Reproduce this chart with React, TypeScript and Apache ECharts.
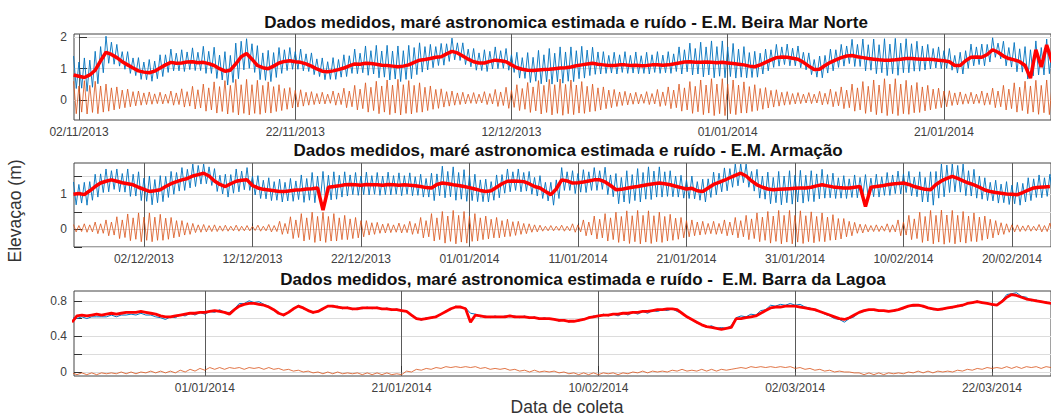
import React, { useEffect, useRef } from "react";
import * as echarts from "echarts";

// x values are days counted from 02/11/2013
const BASE_DATE = Date.UTC(2013, 10, 2);

// ---------- Panel 1: E.M. Beira Mar Norte ----------
const p1Range = [-0.46, 89.9];
const p1XTicks = [0, 20, 40, 60, 80];
const p1TideStart = -0.5;
const p1TideStep = 0.25;
const p1Astro = [
  0.60,-0.43,0.45,-0.38, 0.62,-0.44,0.47,-0.39, 0.60,-0.43,0.45,-0.38, 0.51,-0.35,0.39,-0.31, 0.42,-0.27,0.32,-0.24,
  0.35,-0.21,0.27,-0.18, 0.29,-0.16,0.23,-0.14, 0.26,-0.13,0.20,-0.11, 0.25,-0.12,0.19,-0.10, 0.29,-0.16,0.23,-0.14,
  0.36,-0.22,0.27,-0.19, 0.44,-0.28,0.33,-0.25, 0.51,-0.35,0.39,-0.31, 0.58,-0.41,0.43,-0.36, 0.62,-0.44,0.47,-0.39,
  0.66,-0.47,0.49,-0.42, 0.66,-0.47,0.49,-0.42, 0.63,-0.45,0.47,-0.40, 0.58,-0.41,0.43,-0.36, 0.49,-0.33,0.37,-0.29,
  0.40,-0.25,0.31,-0.22, 0.33,-0.19,0.25,-0.16, 0.27,-0.14,0.21,-0.12, 0.25,-0.12,0.19,-0.10, 0.29,-0.16,0.23,-0.14,
  0.38,-0.24,0.29,-0.21, 0.47,-0.31,0.35,-0.27, 0.55,-0.38,0.41,-0.33, 0.60,-0.43,0.45,-0.38, 0.64,-0.46,0.48,-0.41,
  0.66,-0.47,0.49,-0.42, 0.62,-0.44,0.47,-0.39, 0.55,-0.38,0.41,-0.33, 0.45,-0.29,0.34,-0.26, 0.36,-0.22,0.27,-0.19,
  0.29,-0.16,0.23,-0.14, 0.25,-0.12,0.19,-0.10, 0.24,-0.11,0.19,-0.09, 0.27,-0.14,0.21,-0.12, 0.34,-0.20,0.26,-0.17,
  0.41,-0.26,0.31,-0.23, 0.49,-0.33,0.37,-0.29, 0.56,-0.39,0.42,-0.34, 0.62,-0.44,0.47,-0.39, 0.66,-0.47,0.49,-0.42,
  0.67,-0.48,0.50,-0.43, 0.64,-0.46,0.48,-0.41, 0.59,-0.42,0.44,-0.37, 0.51,-0.35,0.39,-0.31, 0.42,-0.27,0.32,-0.24,
  0.34,-0.20,0.26,-0.17, 0.28,-0.15,0.22,-0.13, 0.25,-0.12,0.19,-0.10, 0.27,-0.14,0.21,-0.12, 0.34,-0.20,0.26,-0.17,
  0.42,-0.27,0.32,-0.24, 0.51,-0.35,0.39,-0.31, 0.59,-0.42,0.44,-0.37, 0.64,-0.46,0.48,-0.41, 0.68,-0.49,0.51,-0.43,
  0.68,-0.49,0.51,-0.43, 0.64,-0.46,0.48,-0.41, 0.58,-0.41,0.43,-0.36, 0.49,-0.33,0.37,-0.29, 0.40,-0.25,0.31,-0.22,
  0.33,-0.19,0.25,-0.16, 0.27,-0.14,0.21,-0.12, 0.24,-0.11,0.19,-0.09, 0.24,-0.11,0.19,-0.09, 0.28,-0.15,0.22,-0.13,
  0.35,-0.21,0.27,-0.18, 0.42,-0.27,0.32,-0.24, 0.51,-0.35,0.39,-0.31, 0.59,-0.42,0.44,-0.37, 0.64,-0.46,0.48,-0.41,
  0.68,-0.49,0.51,-0.43, 0.68,-0.49,0.51,-0.43, 0.63,-0.45,0.47,-0.40, 0.56,-0.39,0.42,-0.34, 0.47,-0.31,0.35,-0.27,
  0.38,-0.24,0.29,-0.21, 0.30,-0.17,0.23,-0.15, 0.26,-0.13,0.20,-0.11, 0.25,-0.12,0.19,-0.10, 0.29,-0.16,0.23,-0.14,
  0.38,-0.24,0.29,-0.21, 0.47,-0.31,0.35,-0.27, 0.55,-0.38,0.41,-0.33, 0.60,-0.43,0.45,-0.38, 0.63,-0.45,0.47,-0.40,
  0.64,-0.46,0.48,-0.41,
];
const p1Measured = [
  1.40,0.37,1.21,0.38, 1.34,0.28,1.27,0.41, 1.55,0.52,1.70,0.87, 2.03,1.17,1.84,1.14, 1.77,1.08,1.54,0.98,
  1.54,0.85,1.34,0.78, 1.35,0.66,1.21,0.65, 1.29,0.60,1.24,0.68, 1.44,0.75,1.44,0.88, 1.62,0.93,1.49,0.93,
  1.60,0.91,1.53,0.97, 1.66,0.94,1.52,0.94, 1.71,0.85,1.55,0.85, 1.68,0.69,1.43,0.64, 1.54,0.48,1.42,0.56,
  1.81,0.68,1.87,0.96, 1.95,1.01,1.79,0.88, 1.73,0.65,1.50,0.63, 1.58,0.59,1.51,0.72, 1.67,0.85,1.60,0.94,
  1.67,0.98,1.54,0.98, 1.62,0.93,1.47,0.91, 1.50,0.81,1.31,0.75, 1.34,0.65,1.22,0.66, 1.35,0.66,1.29,0.73,
  1.44,0.75,1.41,0.85, 1.62,0.84,1.49,0.87, 1.72,0.79,1.57,0.83, 1.74,0.71,1.56,0.73, 1.74,0.64,1.56,0.67,
  1.72,0.59,1.57,0.66, 1.74,0.68,1.67,0.81, 1.82,0.89,1.70,0.96, 1.77,1.03,1.70,1.10, 1.80,1.11,1.79,1.23,
  1.97,1.28,1.82,1.26, 1.82,1.13,1.62,1.06, 1.64,0.95,1.50,0.94, 1.60,0.91,1.55,0.99, 1.69,1.00,1.57,1.01,
  1.64,0.95,1.44,0.88, 1.52,0.70,1.35,0.69, 1.51,0.56,1.36,0.60, 1.58,0.52,1.44,0.58, 1.64,0.51,1.49,0.58,
  1.69,0.54,1.53,0.60, 1.69,0.59,1.57,0.68, 1.71,0.70,1.59,0.78, 1.68,0.82,1.53,0.83, 1.54,0.85,1.42,0.86,
  1.52,0.83,1.44,0.88, 1.54,0.85,1.42,0.86, 1.53,0.84,1.41,0.85, 1.52,0.83,1.44,0.88, 1.54,0.85,1.43,0.87,
  1.54,0.85,1.47,0.91, 1.69,0.83,1.60,0.90, 1.81,0.80,1.64,0.83, 1.84,0.74,1.69,0.80, 1.88,0.71,1.70,0.76,
  1.88,0.71,1.69,0.75, 1.80,0.70,1.62,0.73, 1.70,0.71,1.51,0.72, 1.55,0.73,1.49,0.83, 1.62,0.93,1.60,1.04,
  1.77,1.08,1.69,1.13, 1.78,1.09,1.65,1.09, 1.72,1.03,1.52,0.96, 1.50,0.81,1.29,0.73, 1.40,0.71,1.42,0.86,
  1.62,0.93,1.60,1.04, 1.77,1.08,1.72,1.16, 1.93,1.07,1.77,1.07, 1.94,0.93,1.76,0.95, 1.94,0.84,1.76,0.87,
  1.95,0.78,1.78,0.84, 1.96,0.79,1.81,0.87, 1.95,0.87,1.79,0.92, 1.87,0.92,1.72,0.96, 1.77,0.99,1.64,1.02,
  1.69,1.00,1.57,1.01, 1.64,0.95,1.42,0.86, 1.52,0.83,1.57,1.01, 1.78,1.09,1.69,1.13, 1.78,1.09,1.77,1.21,
  1.98,1.36,1.81,1.31, 1.87,1.09,1.67,1.05, 1.83,0.90,1.63,0.89, 1.70,0.67,1.60,0.77, 1.88,0.80,1.67,0.80,
  1.94,0.84,1.68,0.79,
];
const p1ResStart = -0.5;
const p1ResStep = 0.5;
const p1Residual = [
  0.80,0.76,0.72,0.80,0.95,1.25,1.52,1.45,1.35,1.22,
  1.12,1.02,0.93,0.89,0.87,0.92,1.02,1.12,1.20,1.17,
  1.18,1.21,1.22,1.19,1.20,1.16,1.10,1.00,0.92,0.95,
  1.15,1.38,1.48,1.30,1.10,1.03,1.00,1.08,1.18,1.23,
  1.25,1.22,1.20,1.15,1.08,0.99,0.92,0.90,0.93,0.97,
  1.02,1.09,1.15,1.14,1.17,1.16,1.14,1.11,1.10,1.08,
  1.06,1.08,1.12,1.20,1.27,1.29,1.32,1.36,1.38,1.47,
  1.55,1.50,1.40,1.30,1.22,1.18,1.18,1.23,1.27,1.25,
  1.22,1.12,1.03,0.98,0.95,0.94,0.96,0.97,0.98,1.00,
  1.02,1.03,1.05,1.09,1.12,1.15,1.17,1.14,1.12,1.10,
  1.10,1.12,1.12,1.10,1.11,1.09,1.10,1.12,1.12,1.11,
  1.12,1.15,1.18,1.21,1.22,1.20,1.20,1.21,1.20,1.19,
  1.20,1.18,1.16,1.14,1.12,1.08,1.06,1.12,1.20,1.28,
  1.35,1.37,1.36,1.33,1.30,1.20,1.08,0.97,0.98,1.10,
  1.20,1.28,1.35,1.40,1.42,1.38,1.35,1.32,1.30,1.28,
  1.27,1.27,1.28,1.30,1.32,1.32,1.31,1.30,1.30,1.29,
  1.27,1.25,1.22,1.10,1.10,1.25,1.36,1.37,1.36,1.45,
  1.60,1.52,1.40,1.32,1.28,1.22,1.10,0.70,1.60,1.05,
  1.75,1.20,
];

// ---------- Panel 2: E.M. Armação ----------
const p2Range = [23.55, 113.6];
const p2XTicks = [30, 40, 50, 60, 70, 80, 90, 100, 110];
const p2TideStart = 23.5;
const p2TideStep = 0.25;
const p2Astro = [
  0.14,-0.07,0.11,-0.06, 0.16,-0.08,0.13,-0.07, 0.21,-0.12,0.16,-0.11, 0.27,-0.18,0.21,-0.16, 0.36,-0.26,0.27,-0.23,
  0.44,-0.32,0.33,-0.28, 0.47,-0.35,0.35,-0.31, 0.47,-0.35,0.35,-0.31, 0.43,-0.31,0.32,-0.28, 0.34,-0.24,0.25,-0.21,
  0.25,-0.16,0.19,-0.14, 0.17,-0.09,0.13,-0.08, 0.14,-0.07,0.11,-0.06, 0.13,-0.06,0.10,-0.05, 0.12,-0.05,0.09,-0.04,
  0.12,-0.05,0.09,-0.04, 0.11,-0.04,0.09,-0.03, 0.12,-0.05,0.09,-0.04, 0.14,-0.07,0.11,-0.06, 0.23,-0.14,0.17,-0.12,
  0.36,-0.26,0.27,-0.23, 0.45,-0.33,0.33,-0.29, 0.49,-0.37,0.37,-0.33, 0.49,-0.37,0.37,-0.33, 0.45,-0.33,0.33,-0.29,
  0.40,-0.29,0.30,-0.26, 0.34,-0.24,0.25,-0.21, 0.25,-0.16,0.19,-0.14, 0.20,-0.11,0.15,-0.10, 0.17,-0.09,0.13,-0.08,
  0.18,-0.10,0.14,-0.09, 0.23,-0.14,0.17,-0.12, 0.34,-0.24,0.25,-0.21, 0.45,-0.33,0.33,-0.29, 0.51,-0.39,0.38,-0.34,
  0.54,-0.41,0.40,-0.36, 0.51,-0.39,0.38,-0.34, 0.45,-0.33,0.33,-0.29, 0.38,-0.27,0.29,-0.24, 0.34,-0.24,0.25,-0.21,
  0.29,-0.20,0.22,-0.17, 0.23,-0.14,0.17,-0.12, 0.16,-0.08,0.13,-0.07, 0.12,-0.05,0.09,-0.04, 0.11,-0.04,0.09,-0.03,
  0.12,-0.05,0.09,-0.04, 0.16,-0.08,0.13,-0.07, 0.27,-0.18,0.21,-0.16, 0.38,-0.27,0.29,-0.24, 0.45,-0.33,0.33,-0.29,
  0.49,-0.37,0.37,-0.33, 0.53,-0.40,0.39,-0.35, 0.54,-0.41,0.40,-0.36, 0.53,-0.40,0.39,-0.35, 0.49,-0.37,0.37,-0.33,
  0.43,-0.31,0.32,-0.28, 0.34,-0.24,0.25,-0.21, 0.27,-0.18,0.21,-0.16, 0.23,-0.14,0.17,-0.12, 0.23,-0.14,0.17,-0.12,
  0.27,-0.18,0.21,-0.16, 0.34,-0.24,0.25,-0.21, 0.40,-0.29,0.30,-0.26, 0.47,-0.35,0.35,-0.31, 0.51,-0.39,0.38,-0.34,
  0.54,-0.41,0.40,-0.36, 0.54,-0.41,0.40,-0.36, 0.53,-0.40,0.39,-0.35, 0.50,-0.38,0.37,-0.34, 0.47,-0.35,0.35,-0.31,
  0.42,-0.30,0.31,-0.27, 0.31,-0.21,0.23,-0.18, 0.20,-0.11,0.15,-0.10, 0.14,-0.07,0.11,-0.06, 0.13,-0.06,0.10,-0.05,
  0.16,-0.08,0.13,-0.07, 0.27,-0.18,0.21,-0.16, 0.40,-0.29,0.30,-0.26, 0.49,-0.37,0.37,-0.33, 0.54,-0.41,0.40,-0.36,
  0.55,-0.42,0.41,-0.37, 0.54,-0.41,0.40,-0.36, 0.51,-0.39,0.38,-0.34, 0.47,-0.35,0.35,-0.31, 0.38,-0.27,0.29,-0.24,
  0.25,-0.16,0.19,-0.14, 0.16,-0.08,0.13,-0.07, 0.13,-0.06,0.10,-0.05, 0.12,-0.05,0.09,-0.04, 0.14,-0.07,0.11,-0.06,
  0.18,-0.10,0.14,-0.09,
];
const p2Measured = [
  1.35,0.70,1.28,0.75, 1.34,0.69,1.36,0.83, 1.57,0.92,1.58,1.05, 1.72,1.07,1.67,1.14, 1.72,1.07,1.59,1.06,
  1.72,0.94,1.57,0.95, 1.64,0.82,1.46,0.80, 1.52,0.70,1.42,0.76, 1.53,0.79,1.51,0.91, 1.65,1.00,1.62,1.09,
  1.76,1.11,1.71,1.18, 1.86,1.22,1.82,1.29, 1.86,1.30,1.78,1.25, 1.73,1.08,1.54,1.01, 1.57,0.92,1.56,1.03,
  1.72,1.07,1.66,1.13, 1.76,1.11,1.51,0.98, 1.53,0.88,1.40,0.87, 1.47,0.82,1.36,0.83, 1.43,0.78,1.34,0.81,
  1.45,0.80,1.38,0.85, 1.55,0.77,1.45,0.83, 1.62,0.76,1.52,0.82, 1.65,0.79,1.54,0.84, 1.64,0.86,1.54,0.92,
  1.64,0.95,1.55,0.99, 1.62,0.97,1.52,0.99, 1.63,0.98,1.53,1.00, 1.62,0.97,1.52,0.99, 1.63,0.98,1.53,1.00,
  1.61,0.96,1.53,1.00, 1.61,0.96,1.50,0.97, 1.57,0.92,1.45,0.92, 1.60,0.82,1.58,0.96, 1.80,0.90,1.65,0.93,
  1.78,0.83,1.62,0.86, 1.70,0.80,1.54,0.82, 1.57,0.79,1.41,0.79, 1.43,0.78,1.36,0.83, 1.55,0.90,1.56,1.03,
  1.72,1.07,1.64,1.11, 1.72,1.07,1.62,1.09, 1.65,1.00,1.48,0.95, 1.53,0.88,1.34,0.81, 1.34,0.69,1.41,0.88,
  1.76,1.11,1.64,1.11, 1.67,1.02,1.59,1.06, 1.70,1.05,1.64,1.11, 1.76,1.11,1.67,1.14, 1.77,0.99,1.55,0.93,
  1.59,0.73,1.48,0.78, 1.67,0.74,1.56,0.82, 1.73,0.78,1.62,0.86, 1.78,0.85,1.66,0.92, 1.78,0.92,1.64,0.94,
  1.67,0.93,1.52,0.92, 1.54,0.89,1.41,0.88, 1.52,0.87,1.36,0.83, 1.43,0.78,1.44,0.91, 1.63,0.98,1.60,1.07,
  1.75,1.10,1.73,1.20, 1.86,1.24,1.86,1.33, 1.86,1.20,1.65,1.09, 1.71,0.89,1.52,0.86, 1.63,0.73,1.48,0.76,
  1.65,0.70,1.52,0.76, 1.67,0.72,1.54,0.78, 1.68,0.75,1.54,0.80, 1.67,0.79,1.58,0.87, 1.71,0.89,1.56,0.90,
  1.60,0.88,1.47,0.89, 1.53,0.88,1.44,0.91, 1.55,0.90,1.48,0.95, 1.56,0.91,1.46,0.93, 1.57,0.92,1.50,0.97,
  1.62,0.97,1.55,1.02, 1.66,1.01,1.58,1.05, 1.65,0.96,1.49,0.93, 1.64,0.78,1.48,0.78, 1.64,0.69,1.65,0.89,
  1.86,0.93,1.83,1.05, 1.86,1.07,1.82,1.06, 1.86,0.96,1.67,0.95, 1.71,0.89,1.52,0.86, 1.47,0.82,1.34,0.81,
  1.40,0.75,1.29,0.76, 1.36,0.71,1.26,0.73, 1.34,0.69,1.31,0.78, 1.47,0.82,1.44,0.91, 1.55,0.90,1.47,0.94,
  1.57,0.92,1.48,0.95,
];
const p2ResStart = 23.5;
const p2ResStep = 0.5;
const p2Residual = [
  1.00,1.02,0.99,1.10,1.22,1.32,1.37,1.41,1.37,1.33,
  1.30,1.27,1.20,1.14,1.08,1.10,1.13,1.22,1.30,1.36,
  1.41,1.45,1.52,1.56,1.60,1.52,1.38,1.28,1.22,1.30,
  1.37,1.40,1.41,1.25,1.18,1.14,1.12,1.10,1.08,1.08,
  1.10,1.12,1.13,1.15,1.16,1.18,0.55,1.20,1.22,1.24,
  1.27,1.28,1.27,1.26,1.28,1.27,1.27,1.26,1.28,1.27,
  1.26,1.27,1.26,1.24,1.22,1.19,1.18,1.28,1.32,1.30,
  1.27,1.25,1.22,1.19,1.15,1.11,1.08,1.10,1.20,1.30,
  1.37,1.38,1.37,1.36,1.30,1.22,1.18,1.08,0.99,1.15,
  1.41,1.38,1.32,1.33,1.35,1.38,1.41,1.41,1.35,1.25,
  1.13,1.14,1.17,1.20,1.22,1.25,1.28,1.30,1.32,1.30,
  1.27,1.23,1.19,1.15,1.17,1.10,1.08,1.18,1.28,1.34,
  1.40,1.47,1.54,1.60,1.52,1.38,1.27,1.20,1.15,1.13,
  1.14,1.15,1.16,1.17,1.18,1.18,1.20,1.24,1.27,1.24,
  1.21,1.19,1.18,1.18,1.20,1.22,0.65,1.20,1.22,1.24,
  1.27,1.29,1.31,1.32,1.28,1.22,1.18,1.14,1.13,1.28,
  1.38,1.45,1.51,1.45,1.38,1.32,1.27,1.20,1.12,1.08,
  1.05,1.03,1.01,1.00,0.99,1.05,1.12,1.18,1.20,1.21,
  1.22,
];

// ---------- Panel 3: E.M. Barra da Lagoa ----------
const p3Range = [46.7, 146.0];
const p3XTicks = [60, 80, 100, 120, 140];
const p3Start = 46.5;
const p3Step = 0.5;
const p3Measured = [
  0.61,0.60,0.62,0.60,0.62,0.62,0.62,0.62,0.64,0.62,
  0.64,0.64,0.65,0.64,0.66,0.64,0.64,0.62,0.61,0.59,
  0.62,0.61,0.64,0.63,0.66,0.64,0.67,0.65,0.68,0.67,
  0.70,0.67,0.67,0.71,0.77,0.77,0.80,0.78,0.79,0.76,
  0.74,0.69,0.67,0.63,0.68,0.70,0.75,0.71,0.70,0.66,
  0.69,0.70,0.75,0.73,0.74,0.71,0.73,0.70,0.72,0.71,
  0.73,0.71,0.73,0.70,0.72,0.69,0.71,0.68,0.69,0.63,
  0.61,0.58,0.61,0.60,0.63,0.64,0.69,0.70,0.74,0.72,
  0.72,0.66,0.65,0.62,0.63,0.61,0.63,0.61,0.63,0.62,
  0.63,0.61,0.63,0.60,0.62,0.59,0.61,0.59,0.60,0.57,
  0.59,0.56,0.58,0.57,0.60,0.60,0.63,0.62,0.65,0.63,
  0.65,0.63,0.66,0.64,0.67,0.65,0.68,0.66,0.69,0.68,
  0.70,0.69,0.71,0.68,0.66,0.61,0.59,0.55,0.53,0.50,
  0.52,0.49,0.50,0.49,0.52,0.61,0.63,0.62,0.65,0.64,
  0.69,0.70,0.75,0.74,0.76,0.75,0.77,0.75,0.76,0.73,
  0.72,0.69,0.68,0.65,0.63,0.60,0.59,0.56,0.60,0.62,
  0.67,0.68,0.70,0.69,0.69,0.68,0.68,0.68,0.70,0.71,
  0.74,0.74,0.75,0.73,0.72,0.70,0.70,0.70,0.72,0.72,
  0.75,0.74,0.78,0.77,0.80,0.77,0.78,0.75,0.76,0.80,
  0.87,0.88,0.89,0.85,0.84,0.80,0.81,0.78,0.79,0.76,
];
const p3Astro = [
  -0.01,-0.03,-0.01,-0.03,-0.01,-0.03,-0.01,-0.02,-0.01,-0.02,
  0.00,-0.02,0.00,-0.02,0.00,-0.01,0.01,-0.01,0.01,-0.01,
  0.01,-0.01,0.02,0.00,0.03,0.01,0.04,0.02,0.05,0.03,
  0.05,0.03,0.05,0.04,0.05,0.03,0.05,0.04,0.05,0.03,
  0.05,0.03,0.04,0.02,0.03,0.01,0.02,0.00,0.01,-0.01,
  0.00,-0.02,0.00,-0.02,0.00,-0.02,-0.01,-0.02,-0.01,-0.03,
  -0.01,-0.03,-0.01,-0.03,-0.01,-0.03,-0.02,-0.03,0.01,0.00,
  0.03,0.02,0.04,0.03,0.05,0.04,0.06,0.05,0.06,0.05,
  0.06,0.05,0.06,0.04,0.05,0.03,0.04,0.03,0.04,0.02,
  0.03,0.01,0.02,0.00,0.02,0.00,0.01,0.00,0.01,-0.01,
  0.00,-0.02,-0.01,-0.03,-0.01,-0.03,-0.01,-0.03,-0.01,-0.02,
  -0.01,-0.03,-0.01,-0.02,0.00,-0.01,0.01,-0.01,0.01,0.00,
  0.01,0.00,0.02,0.01,0.03,0.01,0.02,0.01,0.03,0.01,
  0.03,0.01,0.03,0.02,0.03,0.04,0.05,0.04,0.06,0.05,
  0.06,0.05,0.06,0.05,0.06,0.05,0.06,0.04,0.05,0.03,
  0.04,0.02,0.03,0.01,0.02,0.00,0.01,0.00,0.00,-0.01,
  -0.01,-0.03,-0.01,-0.03,-0.01,-0.03,-0.01,-0.02,-0.01,-0.02,
  0.00,-0.01,0.01,-0.01,0.01,-0.01,0.01,0.00,0.01,0.00,
  0.02,0.01,0.03,0.02,0.04,0.03,0.05,0.04,0.05,0.04,
  0.06,0.04,0.06,0.04,0.06,0.05,0.06,0.04,0.06,0.05,
];
const p3Residual = [
  0.56,0.63,0.64,0.63,0.64,0.65,0.64,0.65,0.66,0.65,
  0.66,0.67,0.67,0.67,0.68,0.67,0.66,0.65,0.63,0.62,
  0.62,0.63,0.64,0.65,0.66,0.66,0.67,0.67,0.68,0.69,
  0.68,0.67,0.65,0.70,0.74,0.76,0.77,0.77,0.76,0.75,
  0.73,0.70,0.66,0.64,0.67,0.71,0.74,0.72,0.69,0.67,
  0.68,0.71,0.74,0.74,0.73,0.72,0.72,0.71,0.71,0.72,
  0.72,0.72,0.72,0.71,0.71,0.70,0.70,0.69,0.68,0.64,
  0.60,0.59,0.60,0.61,0.62,0.65,0.68,0.71,0.73,0.73,
  0.71,0.56,0.64,0.63,0.62,0.62,0.62,0.62,0.62,0.63,
  0.62,0.62,0.62,0.61,0.61,0.60,0.60,0.60,0.59,0.58,
  0.58,0.57,0.57,0.58,0.59,0.61,0.62,0.63,0.64,0.64,
  0.65,0.65,0.66,0.66,0.67,0.67,0.68,0.68,0.69,0.70,
  0.70,0.71,0.71,0.70,0.66,0.62,0.59,0.56,0.53,0.51,
  0.50,0.49,0.48,0.49,0.50,0.60,0.60,0.61,0.62,0.63,
  0.66,0.69,0.72,0.73,0.73,0.74,0.74,0.74,0.73,0.72,
  0.71,0.70,0.68,0.66,0.64,0.62,0.60,0.59,0.61,0.64,
  0.67,0.69,0.70,0.70,0.69,0.69,0.68,0.69,0.70,0.72,
  0.74,0.75,0.75,0.74,0.72,0.71,0.70,0.71,0.72,0.73,
  0.74,0.75,0.77,0.78,0.79,0.78,0.77,0.76,0.75,0.79,
  0.84,0.87,0.86,0.84,0.82,0.81,0.80,0.79,0.78,0.77,
];

const TITLES = [
  "Dados medidos, maré astronomica estimada e ruído - E.M. Beira Mar Norte",
  "Dados medidos, maré astronomica estimada e ruído - E.M. Armação",
  "Dados medidos, maré astronomica estimada e ruído -  E.M. Barra da Lagoa",
];
const Y_NAME = "Elevaçao (m)";
const X_NAME = "Data de coleta";

const p1YTicks = [0, 1, 2];
const p1YLabels = [0, 1, 2];
const p2YTicks = [-0.5, 0, 0.5, 1, 1.5];
const p2YLabels = [0, 1];
const p3YTicks = [0, 0.2, 0.4, 0.6, 0.8];
const p3YLabels = [0, 0.4, 0.8];

const C_MEAS = "#0072BD";
const C_ASTRO = "#D95319";
const C_RES = "#FF0000";
const FONT = "'Liberation Sans', Arial, sans-serif";

function pairs(start: number, step: number, vals: number[]) {
  return vals.map((v, i) => [start + i * step, v]);
}

function fmtDate(d: number) {
  const dt = new Date(BASE_DATE + Math.round(d) * 86400000);
  const dd = String(dt.getUTCDate()).padStart(2, "0");
  const mm = String(dt.getUTCMonth() + 1).padStart(2, "0");
  return `${dd}/${mm}/${dt.getUTCFullYear()}`;
}

export default function App() {
  const ref = useRef<HTMLDivElement>(null);
  useEffect(() => {
    if (!ref.current) return;
    const chart = echarts.init(ref.current, undefined, { renderer: "svg" });

    const grids = [
      { left: 74, right: -1, top: 34, height: 86 },
      { left: 74, right: -1, top: 163, height: 84 },
      { left: 74, right: -1, top: 291, height: 85 },
    ].map((g) => ({ ...g, show: true, borderColor: "#444", borderWidth: 1, backgroundColor: "#fff" }));

    const xDefs = [
      { r: p1Range, t: p1XTicks },
      { r: p2Range, t: p2XTicks },
      { r: p3Range, t: p3XTicks },
    ];
    const xAxis = xDefs.map((d, i) => ({
      type: "value",
      gridIndex: i,
      min: d.r[0],
      max: d.r[1],
      axisLine: { show: false },
      axisTick: { show: true, inside: true, length: 6, customValues: d.t, lineStyle: { color: "#333" } },
      axisLabel: {
        customValues: d.t,
        formatter: (v: number) => fmtDate(v),
        fontSize: 12,
        lineHeight: 12,
        color: "#404040",
        margin: 6,
        fontFamily: FONT,
      },
      splitLine: { show: true, lineStyle: { color: "#5a5a5a", width: 1 } },
    }));

    const yDefs = [
      { min: -0.63, max: 2.1, ticks: p1YTicks, labels: p1YLabels },
      { min: -0.5, max: 1.89, ticks: p2YTicks, labels: p2YLabels },
      { min: -0.045, max: 0.91, ticks: p3YTicks, labels: p3YLabels },
    ];
    const yAxis = yDefs.map((d, i) => ({
      type: "value",
      gridIndex: i,
      min: d.min,
      max: d.max,
      axisLine: { show: false },
      axisTick: { show: true, inside: true, length: 8, customValues: d.ticks, lineStyle: { color: "#333" } },
      axisLabel: {
        customValues: d.labels,
        formatter: (v: number) => String(v),
        fontSize: 12,
        color: "#404040",
        margin: 7,
        fontFamily: FONT,
      },
      splitLine: { show: true, lineStyle: { color: "#dcdcdc", width: 1 } },
    }));

    const line = (i: number, data: number[][], color: string, width: number, z: number) => ({
      type: "line",
      xAxisIndex: i,
      yAxisIndex: i,
      data,
      showSymbol: false,
      symbol: "none",
      silent: true,
      clip: true,
      z,
      lineStyle: { color, width },
    });

    const series = [
      line(0, pairs(p1TideStart, p1TideStep, p1Measured), C_MEAS, 0.9, 2),
      line(0, pairs(p1TideStart, p1TideStep, p1Astro), C_ASTRO, 0.8, 3),
      line(0, pairs(p1ResStart, p1ResStep, p1Residual), C_RES, 3.5, 4),
      line(1, pairs(p2TideStart, p2TideStep, p2Measured), C_MEAS, 0.9, 2),
      line(1, pairs(p2TideStart, p2TideStep, p2Astro), C_ASTRO, 0.8, 3),
      line(1, pairs(p2ResStart, p2ResStep, p2Residual), C_RES, 3.5, 4),
      line(2, pairs(p3Start, p3Step, p3Measured), C_MEAS, 1, 2),
      line(2, pairs(p3Start, p3Step, p3Astro), C_ASTRO, 0.8, 3),
      line(2, pairs(p3Start, p3Step, p3Residual), C_RES, 2.8, 4),
    ];

    const titlePos = [
      [566, 22],
      [568, 150],
      [583, 279],
    ];
    const graphic: any[] = TITLES.map((t, i) => ({
      type: "text",
      x: titlePos[i][0],
      y: titlePos[i][1],
      silent: true,
      style: {
        text: t,
        font: `bold 17px ${FONT}`,
        lineHeight: 17,
        fill: "#111",
        align: "center",
        verticalAlign: "middle",
      },
    }));
    graphic.push({
      type: "text",
      x: 15,
      y: 211,
      rotation: Math.PI / 2,
      silent: true,
      style: { text: Y_NAME, font: `17.5px ${FONT}`, fill: "#333", align: "center", verticalAlign: "middle" },
    });
    graphic.push({
      type: "text",
      x: 567,
      y: 407,
      silent: true,
      style: { text: X_NAME, font: `17.5px ${FONT}`, fill: "#333", align: "center", verticalAlign: "middle" },
    });

    chart.setOption({
      animation: false,
      backgroundColor: "#fff",
      grid: grids,
      xAxis,
      yAxis,
      series,
      graphic,
    } as any);

    return () => chart.dispose();
  }, []);

  return (
    <div
      ref={ref}
      style={{ position: "fixed", left: 0, top: 0, width: 1051, height: 416, background: "#fff" }}
    />
  );
}
